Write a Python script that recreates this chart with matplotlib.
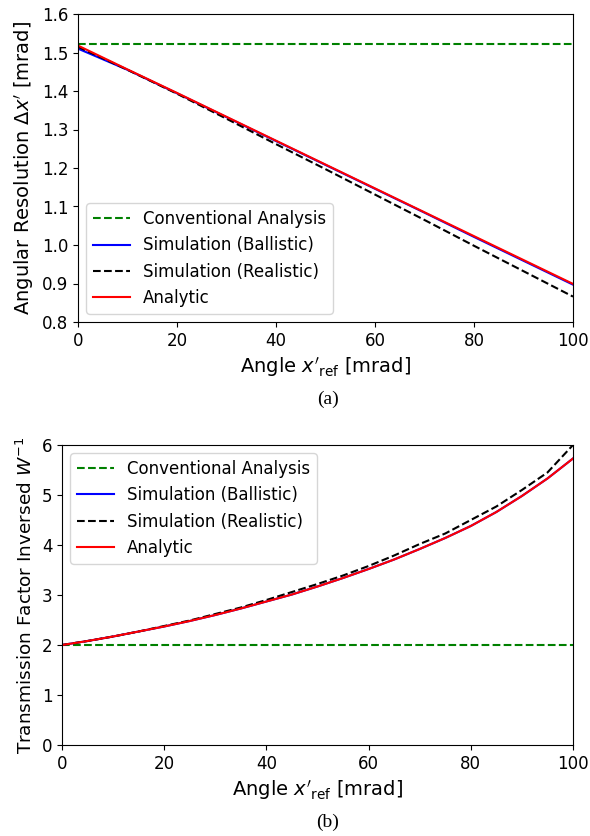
import numpy as np
import matplotlib
matplotlib.use("Agg")
import matplotlib.pyplot as plt

# ---- data panel (a): angular resolution ----
angle_a = [0, 10, 20, 30, 40, 50, 60, 70, 80, 90, 100]
conv_a = 1.522
ballistic_a = [1.510, 1.455, 1.394, 1.332, 1.270, 1.208, 1.146, 1.084, 1.021, 0.959, 0.897]
realistic_a = [1.515, 1.455, 1.393, 1.328, 1.262, 1.197, 1.131, 1.065, 0.998, 0.932, 0.866]
analytic_a = [1.518, 1.456, 1.395, 1.333, 1.271, 1.209, 1.147, 1.085, 1.023, 0.961, 0.899]

# ---- data panel (b): transmission factor inversed ----
angle_b = [0, 5, 10, 15, 20, 25, 30, 35, 40, 45, 50, 55, 60, 65, 70, 75, 80, 85, 90, 95, 100]
conv_b = 2.0
ballistic_b = [2.00, 2.08, 2.17, 2.27, 2.37, 2.48, 2.60, 2.73, 2.87, 3.01, 3.17, 3.34, 3.52, 3.71, 3.92, 4.14, 4.38, 4.66, 4.98, 5.33, 5.73]
realistic_b = [2.00, 2.08, 2.17, 2.27, 2.38, 2.49, 2.62, 2.75, 2.90, 3.06, 3.22, 3.39, 3.58, 3.79, 4.02, 4.23, 4.50, 4.77, 5.10, 5.45, 6.00]
analytic_b = [2.00, 2.08, 2.17, 2.27, 2.37, 2.48, 2.60, 2.73, 2.87, 3.01, 3.17, 3.34, 3.52, 3.71, 3.92, 4.14, 4.38, 4.66, 4.98, 5.33, 5.73]

labels = ["Conventional Analysis", "Simulation (Ballistic)", "Simulation (Realistic)", "Analytic"]

fig = plt.figure(figsize=(5.9, 8.36), dpi=100)
W, H = 590, 836
ax1 = fig.add_axes([78 / W, 1 - 322 / H, (573 - 78) / W, (322 - 14) / H])
ax2 = fig.add_axes([62 / W, 1 - 745 / H, (573 - 62) / W, (745 - 445) / H])

tick_fs = 12
lab_fs = 14
leg_fs = 12

# panel a
ax1.plot([0, 100], [conv_a, conv_a], color="green", ls="--", lw=1.5, label=labels[0])
ax1.plot(angle_a, ballistic_a, color="blue", lw=1.5, label=labels[1])
ax1.plot(angle_a, realistic_a, color="black", ls="--", lw=1.5, label=labels[2])
ax1.plot(angle_a, analytic_a, color="red", lw=1.5, label=labels[3])
ax1.set_xlim(0, 100)
ax1.set_ylim(0.8, 1.6)
ax1.set_xticks([0, 20, 40, 60, 80, 100])
ax1.set_yticks(np.round(np.arange(0.8, 1.61, 0.1), 1))
ax1.tick_params(labelsize=tick_fs)
ax1.set_xlabel(r"Angle $x'_{\mathrm{ref}}$ [mrad]", fontsize=lab_fs)
ax1.set_ylabel(r"Angular Resolution $\Delta x'$ [mrad]", fontsize=lab_fs)
ax1.legend(loc="lower left", fontsize=leg_fs, handlelength=2.2)

# panel b
ax2.plot([0, 100], [conv_b, conv_b], color="green", ls="--", lw=1.5, label=labels[0])
ax2.plot(angle_b, ballistic_b, color="blue", lw=1.5, label=labels[1])
ax2.plot(angle_b, realistic_b, color="black", ls="--", lw=1.5, label=labels[2])
ax2.plot(angle_b, analytic_b, color="red", lw=1.5, label=labels[3])
ax2.set_xlim(0, 100)
ax2.set_ylim(0, 6)
ax2.set_xticks([0, 20, 40, 60, 80, 100])
ax2.set_yticks([0, 1, 2, 3, 4, 5, 6])
ax2.tick_params(labelsize=tick_fs)
ax2.set_xlabel(r"Angle $x'_{\mathrm{ref}}$ [mrad]", fontsize=lab_fs)
ax2.set_ylabel(r"Transmission Factor Inversed $W^{-1}$", fontsize=13.3)
ax2.legend(loc="upper left", fontsize=leg_fs, handlelength=2.2)

fig.text(328 / W, 1 - 399 / H, "(a)", ha="center", va="center", fontsize=14, family="Liberation Serif")
fig.text(328 / W, 1 - 822 / H, "(b)", ha="center", va="center", fontsize=14, family="Liberation Serif")

fig.savefig("out.png", dpi=100)
